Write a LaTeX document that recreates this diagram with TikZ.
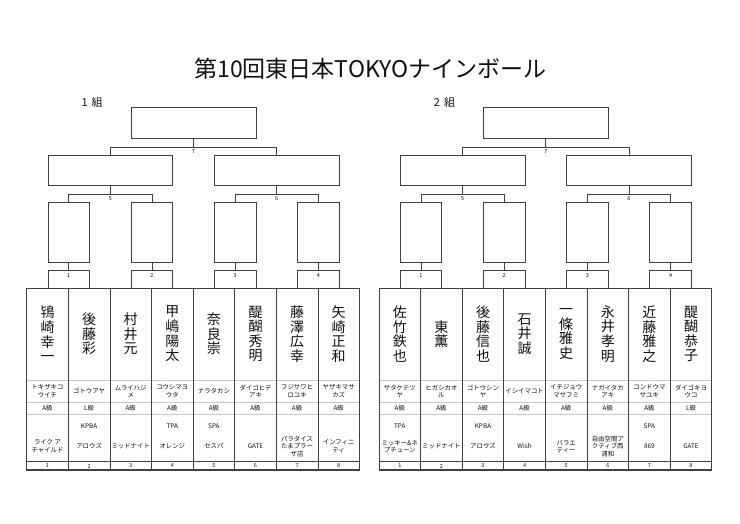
\documentclass[tikz,border=0pt]{standalone}
\usepackage{fontspec}
\setmainfont{Noto Sans CJK JP}
\usetikzlibrary{calc}
\definecolor{linec}{HTML}{404040}
\definecolor{lightc}{HTML}{C8C8C8}
\definecolor{txtc}{HTML}{111111}
\tikzset{
  brk/.style={draw=linec, line width=0.8pt},
  bbox/.style={brk, rectangle, inner sep=0pt, anchor=north west},
  namef/.style={font=\fontsize{14}{14.6}\selectfont, align=center, inner sep=0pt, text=txtc},
  smallf/.style={font=\fontsize{6.4}{7.3}\selectfont, align=center, inner sep=0pt, text=txtc},
  numf/.style={font=\fontsize{5.5}{6.5}\selectfont, inner sep=0pt, text=txtc},
  gridl/.style={draw=linec, line width=0.8pt},
  thinl/.style={draw=lightc, line width=0.6pt},
}
\newcommand\Wd{41.6}

\newcommand\bracket[3]{%
  \foreach \kk in {1,...,4}{
    \node[bbox, minimum width=41.6pt, minimum height=60pt] (#1a\kk) at ({#2+(2*\kk-1.5)*\Wd},202) {};
    \node[bbox, minimum width=41.6pt, minimum height=18pt] (#1s\kk) at ({#2+(2*\kk-1.5)*\Wd},270.3) {};
    \node[numf] (#1n\kk) at ($(#1s\kk.north)+(0,5.5)$) {\kk};
    \draw[brk] (#1a\kk.south) -- (#1s\kk.north);
  }
  \node[bbox, minimum width=124.8pt, minimum height=30pt] (#1b1) at ({#2+0.5*\Wd},155) {};
  \node[bbox, minimum width=124.8pt, minimum height=30pt] (#1b2) at ({#2+4.5*\Wd},155) {};
  \node[bbox, minimum width=124.8pt, minimum height=31pt] (#1c) at ({#2+2.5*\Wd},107) {};
  \draw[brk] (#1c.south) -- ++(0,8.7) coordinate (#1jc);
  \draw[brk] (#1b1.north) |- (#1jc) -| (#1b2.north);
  \node[numf] (#1l7) at ($(#1jc)+(0,4.2)$) {7};
  \draw[brk] (#1b1.south) -- ++(0,9) coordinate (#1jb1);
  \draw[brk] (#1a1.north) |- (#1jb1) -| (#1a2.north);
  \node[numf] (#1l5) at ($(#1jb1)+(0,4)$) {5};
  \draw[brk] (#1b2.south) -- ++(0,9) coordinate (#1jb2);
  \draw[brk] (#1a3.north) |- (#1jb2) -| (#1a4.north);
  \node[numf] (#1l6) at ($(#1jb2)+(0,4)$) {6};
  \node[font=\fontsize{11}{12}\selectfont, text=txtc] (#1g) at ({#2+65.5},102) {#3};
  % table
  \foreach \yy in {380,402.5,414} \draw[thinl] ({#2},\yy) -- ({#2+8*\Wd},\yy);
  \draw[gridl] ({#2},461.5) -- ({#2+8*\Wd},461.5);
  \foreach \ii in {1,...,7} \draw[gridl] ({#2+\ii*\Wd},288.3) -- ({#2+\ii*\Wd},470);
  \draw[gridl] ({#2},288.3) rectangle ({#2+8*\Wd},470);
  \draw[draw=linec, line width=1.4pt] ({#2-0.4},470) -- ({#2+8*\Wd+0.4},470);
  \foreach \ii in {1,...,8} \node[numf] (#1p\ii) at ({#2+(\ii-0.5)*\Wd},466) {\ii};
}

\newcommand\player[8]{%
  \node[namef] (#2nm#3) at ({#1+(#3-0.5)*\Wd},334) {#4};
  \node[smallf] (#2kn#3) at ({#1+(#3-0.5)*\Wd},391.2) {#5};
  \node[smallf] (#2cl#3) at ({#1+(#3-0.5)*\Wd},408.3) {#6};
  \if\relax\detokenize{#7}\relax\else
    \node[smallf] (#2as#3) at ({#1+(#3-0.5)*\Wd},426) {#7};
  \fi
  \node[smallf] (#2cb#3) at ({#1+(#3-0.5)*\Wd},446.3) {#8};
}

\begin{document}
\begin{tikzpicture}[x=1pt,y=-1pt]
\useasboundingbox (0,0) rectangle (740,523);
\fill[white] (0,0) rectangle (740,523);
\node[font=\fontsize{23}{26}\selectfont, text=txtc] (title) at (370.5,69) {第10回東日本TOKYOナインボール};

\bracket{L}{26.7}{1\hspace{4pt}組}
\bracket{R}{379}{2\hspace{4pt}組}

\player{26.7}{L}{1}{鴇\\崎\\幸\\一}{トキザキコ\\ウイチ}{A級}{}{ライク ア\\チャイルド}
\player{26.7}{L}{2}{後\\藤\\彩}{ゴトウアヤ}{L級}{KPBA}{アロウズ}
\player{26.7}{L}{3}{村\\井\\元}{ムライハジ\\メ}{A級}{}{ミッドナイト}
\player{26.7}{L}{4}{甲\\嶋\\陽\\太}{コウシマヨ\\ウタ}{A級}{TPA}{オレンジ}
\player{26.7}{L}{5}{奈\\良\\崇}{ナラタカシ}{A級}{SPA}{セスパ}
\player{26.7}{L}{6}{醍\\醐\\秀\\明}{ダイゴヒデ\\アキ}{A級}{}{GATE}
\player{26.7}{L}{7}{藤\\澤\\広\\幸}{フジサワヒ\\ロユキ}{A級}{}{パラダイス\\たまプラー\\ザ店}
\player{26.7}{L}{8}{矢\\崎\\正\\和}{ヤザキマサ\\カズ}{A級}{}{インフィニ\\ティ}

\player{379}{R}{1}{佐\\竹\\鉄\\也}{サタケテツ\\ヤ}{A級}{TPA}{ミッキー\&ネ\\プチューン}
\player{379}{R}{2}{東\\薫}{ヒガシカオ\\ル}{A級}{}{ミッドナイト}
\player{379}{R}{3}{後\\藤\\信\\也}{ゴトウシン\\ヤ}{A級}{KPBA}{アロウズ}
\player{379}{R}{4}{石\\井\\誠}{イシイマコト}{A級}{}{Wish}
\player{379}{R}{5}{一\\條\\雅\\史}{イチジョウ\\マサフミ}{A級}{}{バラエ\\ティー}
\player{379}{R}{6}{永\\井\\孝\\明}{ナガイタカ\\アキ}{A級}{}{自由空間ア\\クティブ西\\浦和}
\player{379}{R}{7}{近\\藤\\雅\\之}{コンドウマ\\サユキ}{A級}{SPA}{869}
\player{379}{R}{8}{醍\\醐\\恭\\子}{ダイゴキヨ\\ウコ}{L級}{}{GATE}
\end{tikzpicture}
\end{document}
